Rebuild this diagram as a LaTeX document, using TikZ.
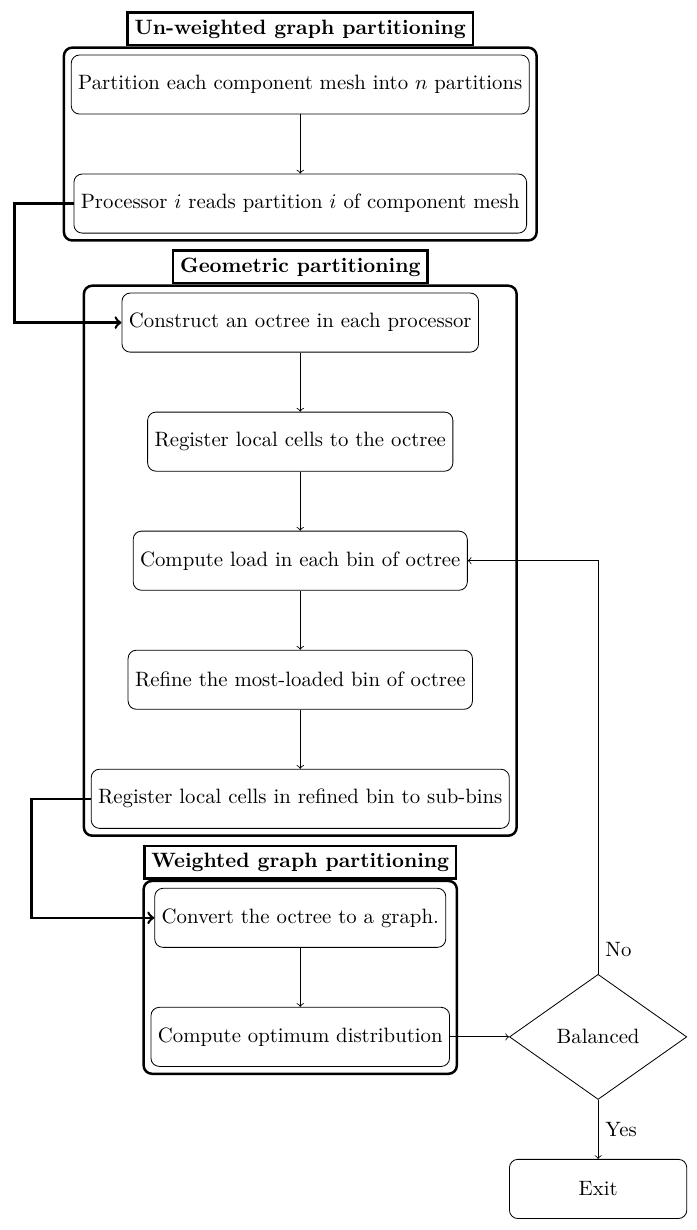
\documentclass[tikz,border=0pt]{standalone}
\usepackage{tikz}
\usetikzlibrary{positioning}
\usetikzlibrary{fit}
\usetikzlibrary{shapes.geometric}

\begin{document}
\begin{tikzpicture}[
    stepbox/.style={draw,rounded corners,minimum height=1cm},
    groupbox/.style={draw,very thick,rounded corners},
    titlebox/.style={draw,very thick,font=\bfseries},
    decision/.style={draw,diamond,minimum width=3cm,minimum height=2cm},
    node distance=1cm]
    %% 边界
    \useasboundingbox (-5.08cm,1.43cm) rectangle (6.70cm,-19.38cm);
    %% 第一组
    \node[stepbox] (p1) at (0,0)
    {Partition each component mesh into $n$ partitions};
    \node[stepbox,below=of p1] (p2)
    {Processor $i$ reads partition $i$ of component mesh};
    \node[groupbox,fit=(p1)(p2),
    label={[titlebox,label distance=0pt]above:Un-weighted graph partitioning}] (u0) {};
    %% 第二组
    \node[stepbox,below=of p2] (g1) {Construct an octree in each processor};
    \node[stepbox,below=of g1] (g2) {Register local cells to the octree};
    \node[stepbox,below=of g2] (g3) {Compute load in each bin of octree};
    \node[stepbox,below=of g3] (g4) {Refine the most-loaded bin of octree};
    \node[stepbox,below=of g4] (g5) {Register local cells in refined bin to sub-bins};
    \node[groupbox,fit=(g1)(g5),
    label={[titlebox,label distance=0pt]above:Geometric partitioning}] (g0) {};
    %% 第三组
    \node[stepbox,below=of g5] (w1) {Convert the octree to a graph.};
    \node[stepbox,below=of w1] (w2) {Compute optimum distribution};
    \node[groupbox,fit=(w1)(w2),
    label={[titlebox,label distance=0pt]above:Weighted graph partitioning}] (w0) {};
    %% 判断
    \node[decision,right=of w2] (bal) {Balanced};
    \node[stepbox,minimum width=3cm,below=of bal] (exit) {Exit};
    % 连线
    \draw[->] (p1) -- (p2);
    \draw[->] (g1) -- (g2);
    \draw[->] (g2) -- (g3);
    \draw[->] (g3) -- (g4);
    \draw[->] (g4) -- (g5);
    \draw[->] (w1) -- (w2);
    \draw[->] (w2) -- (bal);
    \draw[->] (bal.north) |- node[pos=0.03,right]{No} (g3.east);
    \draw[->] (bal) -- node[right]{Yes} (exit);
    % 组间粗线
    \draw[very thick,->] (p2.west) -- ++(-1cm,0) |- (g1.west);
    \draw[very thick,->] (g5.west) -- ++(-1cm,0) |- (w1.west);
\end{tikzpicture}
\end{document}
